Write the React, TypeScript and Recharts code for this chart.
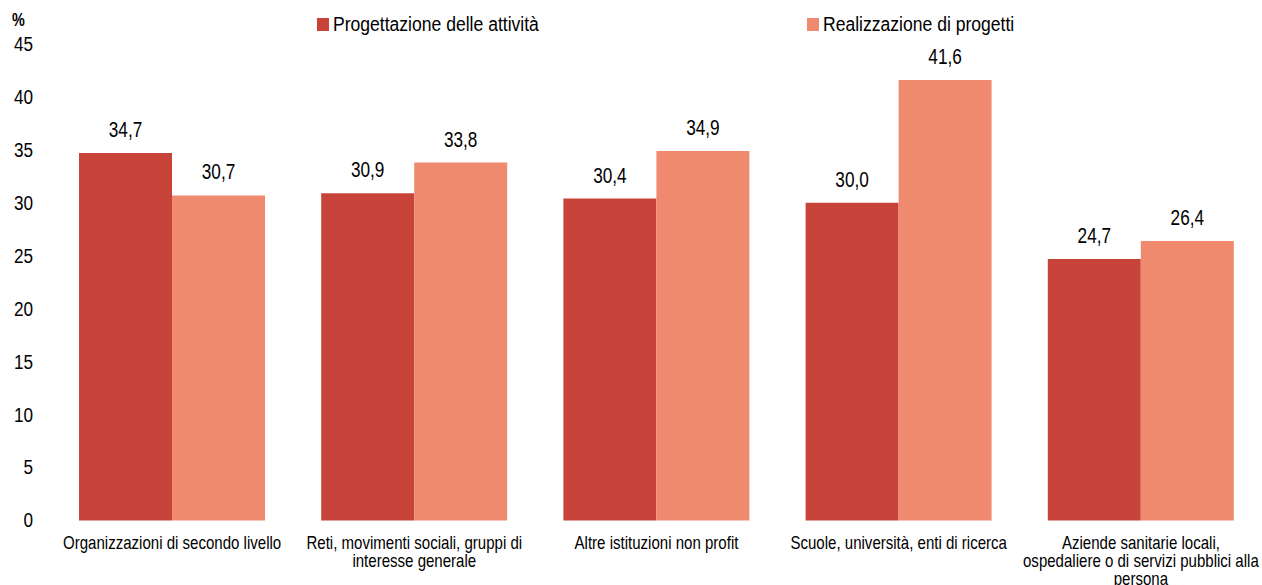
import React from "react";
import { Bar, BarChart, LabelList, Legend, XAxis, YAxis } from "recharts";

const categories = [
  "Organizzazioni di secondo livello",
  "Reti, movimenti sociali, gruppi di\ninteresse generale",
  "Altre istituzioni non profit",
  "Scuole, università, enti di ricerca",
  "Aziende sanitarie locali,\nospedaliere o di servizi pubblici alla\npersona",
];
const progettazione = [34.7, 30.9, 30.4, 30.0, 24.7];
const realizzazione = [30.7, 33.8, 34.9, 41.6, 26.4];
const yTicks = [0, 5, 10, 15, 20, 25, 30, 35, 40, 45];

const seriesNames = ["Progettazione delle attività", "Realizzazione di progetti"];
const DARK = "#C8443B";
const LIGHT = "#F08A6E";
const FONT = "'Liberation Sans', Arial, sans-serif";

const data = categories.map((c, i) => ({
  name: c,
  prog: progettazione[i],
  real: realizzazione[i],
}));

const fmt = (v: unknown) => Number(v).toFixed(1).replace(".", ",");

// the source uses a condensed face, so squeeze the Liberation glyphs horizontally
function CategoryTick(props: any) {
  const { x, y, payload } = props;
  const lines = String(payload.value).split("\n");
  return (
    <g transform={`translate(${x},${y}) scale(0.86,1)`}>
      <text x={0} y={0} textAnchor="middle" fill="#000" fontSize={17.5} fontFamily={FONT}>
        {lines.map((l, i) => (
          <tspan key={i} x={0} y={20.5 + i * 18}>
            {l}
          </tspan>
        ))}
      </text>
    </g>
  );
}

function ValueTick(props: any) {
  const { x, y, payload } = props;
  return (
    <g transform={`translate(${x},${y}) scale(0.88,1)`}>
      <text x={0} y={0} dy="0.355em" textAnchor="end" fill="#000" fontSize={19.5} fontFamily={FONT}>
        {payload.value}
      </text>
    </g>
  );
}

function BarValue(props: any) {
  const vb = props.viewBox ?? props;
  const cx = vb.x + vb.width / 2;
  const top = vb.y - 16;
  return (
    <g transform={`translate(${cx},${top}) scale(0.8,1)`}>
      <text x={0} y={0} textAnchor="middle" fill="#000" fontSize={21.5} fontFamily={FONT}>
        {fmt(props.value)}
      </text>
    </g>
  );
}

function TopLegend() {
  const items = [
    { name: seriesNames[0], color: DARK, left: 317 },
    { name: seriesNames[1], color: LIGHT, left: 807 },
  ];
  return (
    <div style={{ position: "relative", height: 30 }}>
      {items.map((it) => (
        <div
          key={it.name}
          style={{
            position: "absolute",
            left: it.left,
            top: 0,
            display: "flex",
            alignItems: "center",
            whiteSpace: "nowrap",
          }}
        >
          <span style={{ width: 12, height: 13, background: it.color, marginRight: 4 }} />
          <span
            style={{
              display: "inline-block",
              fontFamily: FONT,
              fontSize: 19.5,
              color: "#000",
              transform: "scaleX(0.9)",
              transformOrigin: "left center",
            }}
          >
            {it.name}
          </span>
        </div>
      ))}
    </div>
  );
}

export default function App() {
  return (
    <div style={{ position: "absolute", left: 0, top: 0, width: 1262, height: 585, background: "#fff" }}>
      <div
        style={{
          position: "absolute",
          left: 12,
          top: 11,
          fontFamily: FONT,
          fontSize: 18,
          fontWeight: "bold",
          transform: "scaleX(0.8)",
          transformOrigin: "left top",
          lineHeight: 1,
        }}
      >
        %
      </div>
      <BarChart
        width={1262}
        height={585}
        data={data}
        margin={{ top: 44, right: 0, bottom: 0, left: 0 }}
        barGap={0}
        barCategoryGap={28}
      >
        <XAxis
          dataKey="name"
          axisLine={false}
          tickLine={false}
          interval={0}
          height={64.5}
          tick={<CategoryTick />}
        />
        <YAxis
          width={51}
          domain={[0, 45]}
          ticks={yTicks}
          axisLine={false}
          tickLine={false}
          tickSize={0}
          tickMargin={18}
          tick={<ValueTick />}
        />
        <Legend
          layout="horizontal"
          verticalAlign="middle"
          content={<TopLegend />}
          wrapperStyle={{ top: 13, left: 0, width: 1262 }}
        />
        <Bar dataKey="prog" name={seriesNames[0]} fill={DARK} isAnimationActive={false}>
          <LabelList dataKey="prog" position="top" content={<BarValue />} />
        </Bar>
        <Bar dataKey="real" name={seriesNames[1]} fill={LIGHT} isAnimationActive={false}>
          <LabelList dataKey="real" position="top" content={<BarValue />} />
        </Bar>
      </BarChart>
    </div>
  );
}
